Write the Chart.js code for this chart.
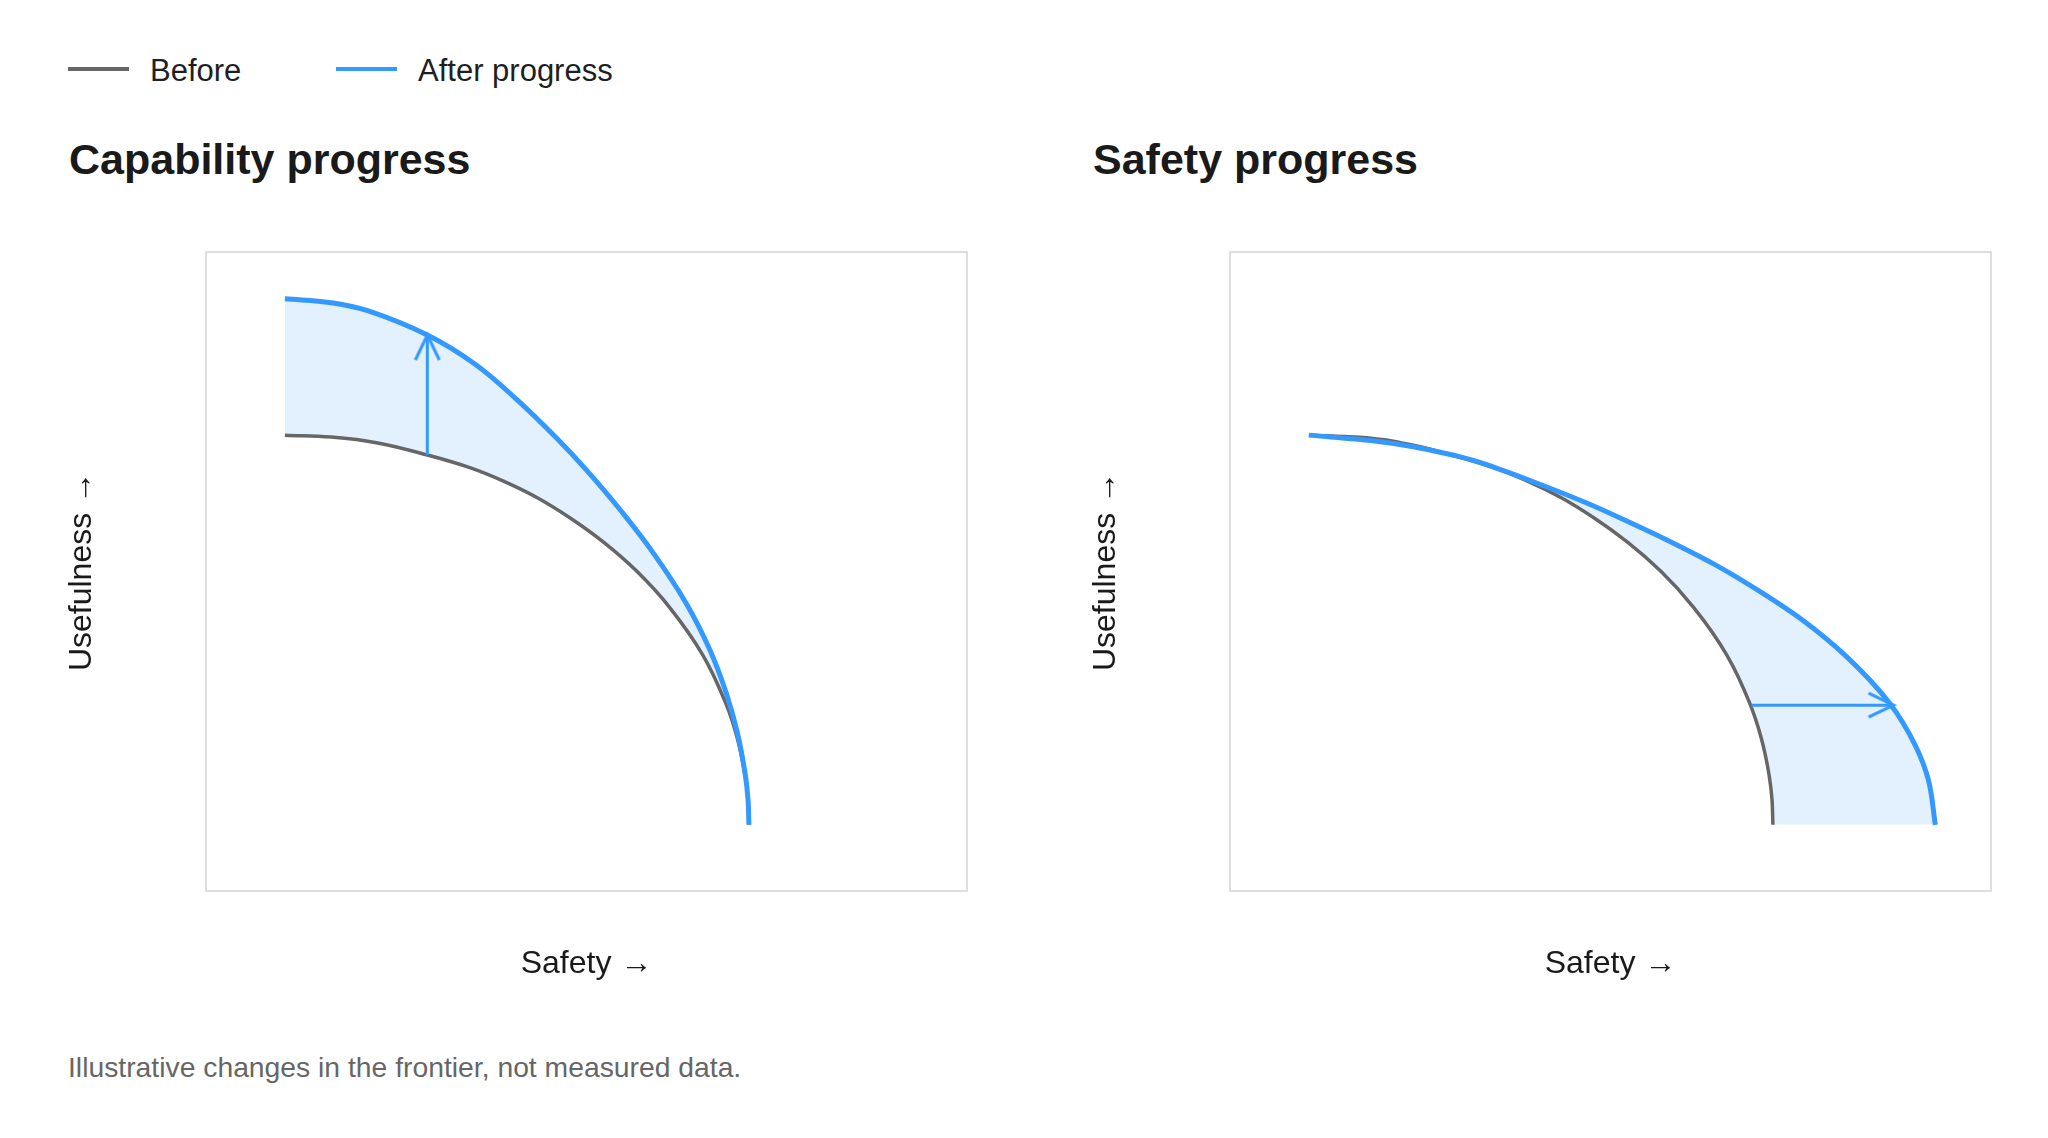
<!DOCTYPE html>
<html>
<head>
<meta charset="utf-8">
<title>Capability and safety progress</title>
<script src="https://cdn.jsdelivr.net/npm/chart.js@4.4.1/dist/chart.umd.min.js"></script>
<style>
    html, body { margin: 0; padding: 0; background: #fff; }
    body {
        position: relative;
        width: 2048px;
        height: 1138px;
        overflow: hidden;
        font-family: "Liberation Sans", Arial, Helvetica, sans-serif;
        color: #1a1a1a;
    }
    .swatch { position: absolute; top: 67px; width: 61px; height: 4px; }
    .key-label { position: absolute; top: 55px; font-size: 31px; line-height: 31px; color: #1f1f1f; white-space: nowrap; }
    .panel-title { position: absolute; top: 138px; font-size: 43px; line-height: 43px; font-weight: bold; white-space: nowrap; }
    .panel { position: absolute; top: 200px; width: 1024px; height: 830px; }
    .note { position: absolute; left: 68px; top: 1053px; font-size: 28.3px; line-height: 28px; color: #666; white-space: nowrap; }
</style>
</head>
<body>

<span class="swatch" style="left:68px; background:#666666;"></span>
<span class="key-label" style="left:150px;">Before</span>
<span class="swatch" style="left:336px; background:#3399ff;"></span>
<span class="key-label" style="left:418px;">After progress</span>

<div class="panel-title" style="left:69px;">Capability progress</div>
<div class="panel-title" style="left:1093px;">Safety progress</div>

<div class="panel" style="left:0px;"><canvas id="capability-chart" width="1024" height="830"></canvas></div>
<div class="panel" style="left:1024px;"><canvas id="safety-chart" width="1024" height="830"></canvas></div>

<div class="note">Illustrative changes in the frontier, not measured data.</div>

<script>
// Frontier (safety on x, usefulness on y)
const beforeSafety = [0, 0.10, 0.20, 0.307, 0.40, 0.471, 0.543, 0.614, 0.686, 0.758, 0.829, 0.901, 0.95, 0.975, 0.992, 0.998, 1.0];
const beforeUsefulness = [1.0, 0.995, 0.98, 0.949, 0.916, 0.882, 0.840, 0.788, 0.726, 0.651, 0.558, 0.435, 0.312, 0.222, 0.126, 0.065, 0];

// Capability progress: frontier pushed up
const capAfterSafety = [0, 0.10, 0.18, 0.307, 0.41, 0.50, 0.589, 0.65, 0.722, 0.793, 0.865, 0.915, 0.95, 0.975, 0.992, 0.998, 1.0];
const capAfterUsefulness = [1.35, 1.340, 1.319, 1.257, 1.182, 1.091, 0.988, 0.910, 0.809, 0.699, 0.568, 0.451, 0.342, 0.237, 0.130, 0.066, 0];
const capShiftSafety = [0.307, 0.307];
const capShiftUsefulness = [0.949, 1.257];

// Safety progress: frontier pushed right
const safeAfterSafety = [0, 0.134, 0.32, 0.41, 0.506, 0.60, 0.693, 0.79, 0.879, 0.97, 1.065, 1.158, 1.252, 1.307, 1.335, 1.35];
const safeAfterUsefulness = [1.0, 0.986, 0.946, 0.913, 0.870, 0.825, 0.775, 0.72, 0.665, 0.60, 0.524, 0.432, 0.311, 0.203, 0.115, 0];
const safeShiftSafety = [0.954, 1.26];
const safeShiftUsefulness = [0.307, 0.307];

const axisMin = -0.17;
const axisMax = 1.47;

const FONT = '"Liberation Sans", Arial, Helvetica, sans-serif';
const BLUE = '#3399ff';
const GREY = '#666666';
const FILL = '#e3f0fd';
const FRAME = '#dedede';

const toPoints = (xs, ys) => xs.map((x, i) => ({ x: x, y: ys[i] }));

// open chevron used as the point style at the tip of the shift arrow (tip = centre)
function makeArrowHead() {
    const c = document.createElement('canvas');
    c.width = 64;
    c.height = 64;
    const g = c.getContext('2d');
    g.strokeStyle = BLUE;
    g.lineWidth = 3;
    g.beginPath();
    g.moveTo(20, 57);
    g.lineTo(32, 32);
    g.lineTo(44, 57);
    g.stroke();
    return c;
}
const arrowHead = makeArrowHead();

function frameAxis(position) {
    return {
        type: 'linear',
        position: position,
        display: true,
        min: axisMin,
        max: axisMax,
        grid: { display: false, drawTicks: false, tickLength: 0 },
        ticks: { display: false },
        border: { display: true, color: FRAME, width: 2 }
    };
}

// curve: smoothing options for the two frontier lines
function buildChart(canvasId, afterX, afterY, shiftX, shiftY, indexAxis, headRotation, curve) {
    const x = frameAxis('bottom');
    x.title = {
        display: true, text: 'Safety →', color: '#1a1a1a',
        font: { family: FONT, size: 32, lineHeight: 1 },
        padding: { top: 57, bottom: 50 }
    };
    const y = frameAxis('left');
    y.title = {
        display: true, text: 'Usefulness →', color: '#1a1a1a',
        font: { family: FONT, size: 32, lineHeight: 1 },
        padding: { top: 66, bottom: 108 }
    };

    return new Chart(document.getElementById(canvasId), {
        type: 'line',
        data: {
            datasets: [
                {
                    label: 'shift',
                    data: toPoints(shiftX, shiftY),
                    xAxisID: 'x', yAxisID: 'y',
                    borderColor: BLUE,
                    borderWidth: 3,
                    tension: 0,
                    fill: false,
                    pointRadius: [0, 10],
                    pointStyle: arrowHead,
                    pointRotation: headRotation
                },
                Object.assign({
                    label: 'After progress',
                    data: toPoints(afterX, afterY),
                    xAxisID: 'x', yAxisID: 'y',
                    borderColor: BLUE,
                    borderWidth: 5,
                    backgroundColor: FILL,
                    fill: '+1',
                    pointRadius: 0
                }, curve),
                Object.assign({
                    label: 'Before',
                    data: toPoints(beforeSafety, beforeUsefulness),
                    xAxisID: 'x', yAxisID: 'y',
                    borderColor: GREY,
                    borderWidth: 3.5,
                    fill: false,
                    pointRadius: 0
                }, curve)
            ]
        },
        options: {
            indexAxis: indexAxis,
            responsive: false,
            animation: false,
            events: [],
            layout: { padding: { top: 52, right: 57, bottom: 0, left: 0 } },
            plugins: {
                legend: { display: false },
                tooltip: { enabled: false },
                filler: { drawTime: 'beforeDatasetsDraw' }
            },
            scales: {
                x: x,
                y: y,
                xTop: frameAxis('top'),
                yRight: frameAxis('right')
            }
        }
    });
}

Chart.defaults.font.family = FONT;

// left panel fills along safety, right panel along usefulness (its frontier reaches further right)
buildChart('capability-chart', capAfterSafety, capAfterUsefulness, capShiftSafety, capShiftUsefulness,
    'x', 0, { tension: 0.4 });
buildChart('safety-chart', safeAfterSafety, safeAfterUsefulness, safeShiftSafety, safeShiftUsefulness,
    'y', 90, { cubicInterpolationMode: 'monotone' });
</script>
</body>
</html>
